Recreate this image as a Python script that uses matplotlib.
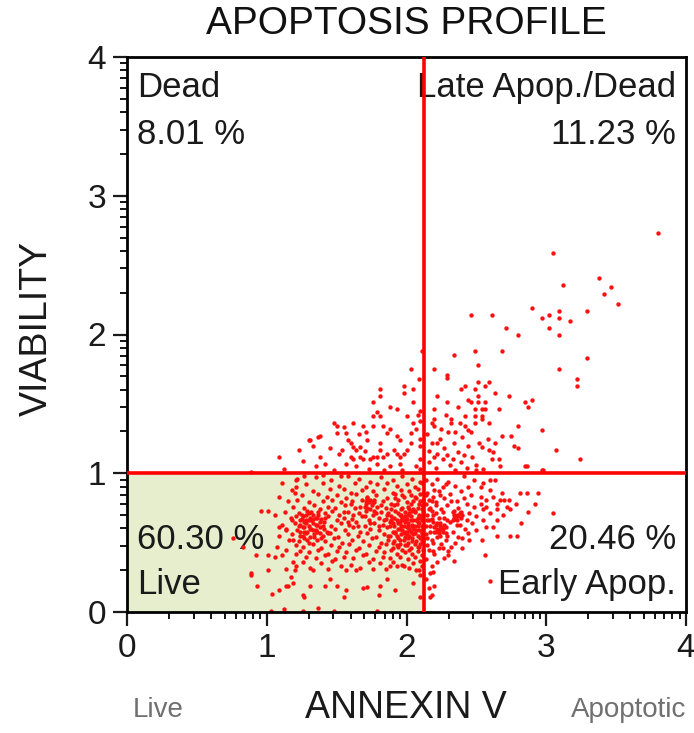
import numpy as np
import matplotlib
matplotlib.use("Agg")
import matplotlib.pyplot as plt

plt.rcParams['font.family'] = ['Liberation Sans', 'DejaVu Sans']

# quadrant gates (log decades)
gate_x = 2.125
gate_y = 1.0

quad_names = ["Dead", "Late Apop./Dead", "Live", "Early Apop."]
quad_pcts = ["8.01 %", "11.23 %", "60.30 %", "20.46 %"]

# upper-left quadrant points
dead_x = [2.03, 2.11, 1.98, 2.05, 1.81, 1.81, 1.76, 1.88, 1.93, 2.05, 1.79, 1.76, 1.81, 2.00,
          1.48, 1.50, 1.50, 1.62, 1.69, 1.76, 1.83, 1.57, 1.88, 1.86, 1.93, 1.95, 2.03, 2.05,
          2.07, 1.30, 1.38, 1.33, 1.23, 1.38, 1.42, 1.52, 1.60, 1.62, 1.64, 1.67, 1.72, 1.81,
          1.81, 1.79, 1.83, 1.86, 1.60, 1.62, 1.67, 1.69, 1.74, 1.76, 1.91, 1.93, 1.95, 1.98,
          2.00, 2.03, 1.57, 1.64, 1.79, 1.88, 1.95, 2.07, 1.48, 1.09, 0.89, 1.31, 1.37, 1.55,
          1.66, 1.71, 1.58, 1.45, 1.54, 1.70, 1.97, 1.84, 1.73, 1.12, 1.35, 1.26, 1.98, 2.09,
          2.08, 2.10, 2.10, 2.10, 2.10, 2.10, 2.10]
dead_y = [1.75, 1.88, 1.63, 1.61, 1.61, 1.56, 1.51, 1.48, 1.46, 1.51, 1.44, 1.41, 1.41, 1.41,
          1.36, 1.34, 1.29, 1.36, 1.34, 1.34, 1.34, 1.29, 1.32, 1.29, 1.27, 1.24, 1.29, 1.36,
          1.32, 1.24, 1.27, 1.20, 1.17, 1.12, 1.07, 1.14, 1.22, 1.19, 1.17, 1.19, 1.24, 1.22,
          1.17, 1.12, 1.12, 1.14, 1.12, 1.10, 1.12, 1.10, 1.10, 1.12, 1.17, 1.14, 1.12, 1.14,
          1.17, 1.22, 1.07, 1.05, 1.07, 1.05, 1.07, 1.05, 1.02, 1.12, 1.01, 1.24, 1.26, 1.33,
          1.28, 1.30, 1.24, 1.18, 1.17, 1.16, 1.02, 1.02, 1.03, 1.03, 1.05, 1.09, 1.58, 1.68,
          1.42, 1.45, 1.38, 1.20, 1.10, 1.03, 1.25]

# upper-right quadrant points
late_x = [3.80, 3.05, 3.12, 3.38, 3.46, 3.41, 3.51, 2.90, 3.02, 2.97, 3.09, 3.09, 3.17, 3.29,
          3.02, 3.09, 2.46, 2.61, 2.71, 2.80, 3.29, 3.09, 3.22, 3.22, 2.34, 2.49, 2.68, 2.51,
          2.20, 2.29, 2.29, 2.39, 2.42, 2.49, 2.51, 2.59, 2.56, 2.63, 2.73, 2.22, 2.90, 2.85,
          2.87, 2.29, 2.37, 2.44, 2.46, 2.51, 2.56, 2.51, 2.66, 2.20, 2.49, 2.54, 2.56, 2.42,
          2.49, 2.54, 2.20, 2.20, 2.32, 2.32, 2.80, 2.97, 2.68, 2.75, 2.63, 2.77, 2.80, 3.07,
          3.24, 2.85, 2.97, 2.22, 2.20, 2.42, 2.44, 2.49, 2.54, 2.59, 2.59, 2.54, 2.66, 2.61,
          2.15, 2.18, 2.24, 2.27, 2.30, 2.34, 2.37, 2.40, 2.44, 2.47, 2.16, 2.21, 2.26, 2.31,
          2.35, 2.39, 2.43, 2.50, 2.55, 2.18, 2.25, 2.28, 2.35, 2.38, 2.46, 2.16, 2.22, 2.29,
          2.33, 2.41, 2.52, 2.58, 2.62, 2.86, 2.98, 2.67, 2.50]
late_y = [2.73, 2.59, 2.36, 2.41, 2.34, 2.29, 2.22, 2.19, 2.14, 2.12, 2.17, 2.12, 2.10, 2.17,
          2.05, 2.00, 2.14, 2.14, 2.05, 2.00, 1.83, 1.75, 1.68, 1.63, 1.85, 1.88, 1.88, 1.78,
          1.75, 1.69, 1.71, 1.61, 1.63, 1.61, 1.66, 1.66, 1.63, 1.58, 1.56, 1.56, 1.53, 1.51,
          1.48, 1.51, 1.48, 1.53, 1.51, 1.51, 1.51, 1.56, 1.46, 1.46, 1.46, 1.46, 1.46, 1.41,
          1.41, 1.41, 1.39, 1.34, 1.39, 1.36, 1.34, 1.31, 1.27, 1.27, 1.22, 1.20, 1.18, 1.17,
          1.10, 1.05, 1.02, 1.22, 1.12, 1.34, 1.31, 1.36, 1.39, 1.36, 1.17, 1.19, 1.10, 1.10,
          1.28, 1.22, 1.25, 1.18, 1.30, 1.22, 1.15, 1.26, 1.20, 1.12, 1.08, 1.04, 1.10, 1.06,
          1.02, 1.08, 1.04, 1.06, 1.03, 1.36, 1.32, 1.42, 1.30, 1.36, 1.30, 1.16, 1.14, 1.13,
          1.10, 1.13, 1.22, 1.25, 1.15, 1.05, 1.02, 1.05, 1.02]

# lower-right quadrant points
early_x = [2.81, 2.86, 2.94, 3.05, 2.92, 2.87, 2.82, 2.78, 2.73, 2.68, 2.63, 2.74, 2.79, 2.65,
           2.56, 2.60, 2.19, 2.20, 2.18, 2.34, 2.40, 2.30, 2.26, 2.35, 2.45, 2.54, 2.50, 2.57,
           2.65, 2.69, 2.74, 2.65, 2.57, 2.53, 2.60, 2.53, 2.55, 2.60, 2.48, 2.41, 2.45, 2.48,
           2.43, 2.50, 2.55, 2.57, 2.60, 2.53, 2.62, 2.67, 2.72, 2.70, 2.65, 2.55, 2.62, 2.17,
           2.17, 2.14, 2.18, 2.22, 2.26, 2.30, 2.35, 2.39, 2.44, 2.15, 2.19, 2.23, 2.27, 2.31,
           2.36, 2.41, 2.46, 2.14, 2.17, 2.21, 2.25, 2.29, 2.33, 2.37, 2.40, 2.15, 2.18, 2.21,
           2.24, 2.27, 2.31, 2.35, 2.38, 2.42, 2.14, 2.17, 2.20, 2.23, 2.26, 2.29, 2.33, 2.37,
           2.15, 2.19, 2.22, 2.25, 2.28, 2.32, 2.16, 2.20, 2.23, 2.14, 2.22, 2.27, 2.36, 2.34,
           2.38, 2.22, 2.24, 2.26, 2.21, 2.28, 2.19, 2.35, 2.37, 2.33, 2.16, 2.18, 2.16, 2.20,
           2.24, 2.28, 2.32, 2.43, 2.47, 2.44, 2.40, 2.30, 2.18, 2.14, 2.16, 2.23, 2.25, 2.21,
           2.36, 2.39, 2.34]
early_y = [0.86, 0.86, 0.86, 0.71, 0.78, 0.72, 0.64, 0.78, 0.81, 0.86, 0.95, 0.55, 0.55, 0.55,
           0.41, 0.22, 0.29, 0.19, 0.12, 0.37, 0.46, 0.41, 0.46, 0.50, 0.52, 0.52, 0.59, 0.61,
           0.66, 0.70, 0.74, 0.78, 0.81, 0.83, 0.88, 0.90, 0.93, 0.95, 0.95, 0.98, 0.71, 0.76,
           0.66, 0.69, 0.74, 0.76, 0.71, 0.78, 0.83, 0.81, 0.76, 0.81, 0.74, 0.66, 0.61, 0.28,
           0.11, 0.95, 0.92, 0.96, 0.90, 0.94, 0.91, 0.87, 0.90, 0.86, 0.83, 0.87, 0.82, 0.85,
           0.80, 0.82, 0.84, 0.78, 0.75, 0.79, 0.74, 0.77, 0.72, 0.75, 0.70, 0.70, 0.67, 0.71,
           0.64, 0.68, 0.65, 0.68, 0.63, 0.60, 0.62, 0.58, 0.61, 0.57, 0.60, 0.55, 0.58, 0.54,
           0.53, 0.50, 0.54, 0.49, 0.52, 0.47, 0.45, 0.42, 0.46, 0.38, 0.36, 0.39, 0.63, 0.70,
           0.71, 0.60, 0.62, 0.58, 0.63, 0.61, 0.65, 0.67, 0.69, 0.66, 0.66, 0.73, 0.81, 0.88,
           0.84, 0.92, 0.80, 0.78, 0.64, 0.57, 0.53, 0.44, 0.33, 0.24, 0.17, 0.59, 0.61, 0.58,
           0.70, 0.72, 0.68]

# lower-left quadrant points
live_x = [1.22, 1.35, 1.46, 1.58, 1.66, 1.74, 1.82, 1.90, 1.97, 2.04, 2.10, 1.53, 1.27, 1.40,
          1.28, 1.40, 1.52, 1.63, 1.71, 1.79, 1.86, 1.93, 2.00, 2.06, 2.11, 1.45,
          1.18, 1.33, 1.55, 1.60, 1.68, 1.76, 1.84, 1.90, 1.96, 2.02, 2.08, 2.12,
          1.25, 1.37, 1.43, 1.50, 1.57, 1.64, 1.72, 1.78, 1.86, 1.92, 1.98, 2.03, 2.07, 2.10,
          1.15, 1.22, 1.30, 1.40, 1.47, 1.53, 1.61, 1.68, 1.73, 1.77, 1.83, 1.89, 1.94, 2.00,
          2.05, 2.09, 2.12, 1.71, 1.75,
          1.19, 1.27, 1.34, 1.38, 1.44, 1.49, 1.56, 1.63, 1.70, 1.74, 1.79, 1.85, 1.91, 1.96,
          2.01, 2.04, 2.08, 2.11, 1.72, 1.77,
          1.13, 1.23, 1.29, 1.33, 1.37, 1.42, 1.47, 1.52, 1.58, 1.66, 1.71, 1.76, 1.82, 1.87,
          1.92, 1.95, 1.99, 2.02, 2.06, 2.09, 2.12, 1.26, 1.31,
          1.17, 1.25, 1.28, 1.35, 1.39, 1.44, 1.50, 1.55, 1.61, 1.68, 1.73, 1.80, 1.85, 1.89,
          1.93, 1.97, 2.00, 2.03, 2.07, 2.10, 1.95, 1.99,
          1.20, 1.24, 1.27, 1.30, 1.33, 1.36, 1.41, 1.46, 1.53, 1.59, 1.64, 1.70, 1.77, 1.83,
          1.88, 1.91, 1.98, 2.01, 2.04, 2.08, 2.11, 2.05, 1.94, 1.32,
          1.14, 1.22, 1.26, 1.29, 1.32, 1.35, 1.38, 1.43, 1.49, 1.56, 1.62, 1.67, 1.74, 1.80,
          1.86, 1.90, 1.97, 2.00, 2.03, 2.06, 2.09, 2.12, 1.96, 2.02,
          1.18, 1.24, 1.28, 1.31, 1.34, 1.40, 1.45, 1.51, 1.58, 1.65, 1.72, 1.78, 1.84, 1.88,
          1.92, 1.99, 2.05, 2.08, 2.11, 1.94, 2.00,
          1.16, 1.23, 1.27, 1.30, 1.36, 1.42, 1.48, 1.54, 1.61, 1.69, 1.75, 1.82, 1.87, 1.91,
          1.95, 1.98, 2.01, 2.04, 2.07, 2.10, 2.12,
          1.21, 1.26, 1.33, 1.39, 1.46, 1.52, 1.59, 1.66, 1.73, 1.80, 1.85, 1.90, 1.94, 1.97,
          2.00, 2.03, 2.06, 2.09, 2.12,
          1.24, 1.30, 1.37, 1.44, 1.50, 1.57, 1.64, 1.71, 1.78, 1.84, 1.89, 1.93, 1.99, 2.04,
          2.08, 2.11,
          1.28, 1.35, 1.42, 1.49, 1.55, 1.62, 1.69, 1.76, 1.83, 1.88, 1.95, 2.01, 2.06, 2.10,
          1.26, 1.39, 1.47, 1.60, 1.73, 1.81, 1.90, 1.97, 2.05, 2.11,
          1.31, 1.44, 1.53, 1.67, 1.85, 1.93, 2.02, 2.09,
          1.11, 1.09, 0.96, 1.01, 1.06, 1.09, 1.11, 0.76, 0.83, 0.92, 1.01, 1.06, 1.14, 1.19,
          1.21, 1.19, 0.89, 1.01, 1.14, 1.20, 1.14, 1.09, 1.14, 1.07, 1.11, 1.20, 1.21, 1.18,
          1.21, 1.21,
          0.93, 1.04, 1.09, 1.19, 1.31, 1.42, 1.50, 1.57, 1.69, 1.03, 1.12, 1.26, 1.48, 1.81,
          1.80, 0.89, 1.15, 1.27, 1.37, 1.26, 1.45, 1.55, 1.64, 1.72, 1.79, 1.86, 1.92, 2.05,
          1.17, 1.21, 1.33, 1.57, 1.76, 1.88, 1.98, 2.07, 2.10, 2.10,
          1.95, 1.98, 2.01, 2.03, 1.96, 2.06, 1.99, 2.02, 1.93, 1.90, 2.08, 1.27, 1.30, 1.33,
          1.36, 1.28, 1.38, 1.24, 1.40, 1.74, 1.71, 1.77, 2.11, 2.11, 2.11, 2.11, 2.11, 2.11]
live_y = [0.96, 0.97, 0.95, 0.98, 0.96, 0.94, 0.97, 0.95, 0.98, 0.96, 0.94, 0.98, 0.98, 0.99,
          0.92, 0.93, 0.91, 0.93, 0.90, 0.92, 0.93, 0.91, 0.92, 0.90, 0.93, 0.89,
          0.88, 0.87, 0.89, 0.86, 0.88, 0.87, 0.89, 0.86, 0.88, 0.87, 0.89, 0.86,
          0.84, 0.85, 0.83, 0.84, 0.82, 0.85, 0.83, 0.84, 0.82, 0.85, 0.83, 0.84, 0.82, 0.85,
          0.80, 0.81, 0.79, 0.80, 0.81, 0.79, 0.80, 0.81, 0.79, 0.81, 0.80, 0.78, 0.81, 0.79,
          0.80, 0.78, 0.81, 0.78, 0.77,
          0.76, 0.75, 0.77, 0.74, 0.76, 0.75, 0.77, 0.75, 0.76, 0.74, 0.76, 0.75, 0.77, 0.74,
          0.76, 0.73, 0.75, 0.77, 0.75, 0.73,
          0.72, 0.71, 0.73, 0.70, 0.72, 0.71, 0.73, 0.70, 0.72, 0.71, 0.73, 0.70, 0.72, 0.71,
          0.73, 0.70, 0.72, 0.71, 0.73, 0.70, 0.72, 0.69, 0.68,
          0.68, 0.67, 0.66, 0.68, 0.67, 0.69, 0.66, 0.68, 0.67, 0.69, 0.66, 0.68, 0.67, 0.69,
          0.66, 0.68, 0.67, 0.69, 0.66, 0.68, 0.64, 0.65,
          0.64, 0.63, 0.65, 0.62, 0.64, 0.63, 0.65, 0.62, 0.64, 0.63, 0.65, 0.62, 0.64, 0.63,
          0.65, 0.62, 0.62, 0.64, 0.63, 0.65, 0.62, 0.60, 0.60, 0.66,
          0.60, 0.59, 0.61, 0.58, 0.60, 0.59, 0.61, 0.58, 0.60, 0.59, 0.61, 0.58, 0.60, 0.59,
          0.61, 0.58, 0.59, 0.61, 0.58, 0.62, 0.59, 0.61, 0.56, 0.55,
          0.56, 0.55, 0.57, 0.54, 0.56, 0.55, 0.57, 0.54, 0.56, 0.55, 0.57, 0.54, 0.56, 0.55,
          0.57, 0.54, 0.56, 0.55, 0.57, 0.53, 0.58,
          0.52, 0.51, 0.53, 0.50, 0.52, 0.51, 0.53, 0.50, 0.52, 0.51, 0.53, 0.50, 0.52, 0.51,
          0.49, 0.52, 0.50, 0.53, 0.51, 0.49, 0.52,
          0.48, 0.47, 0.49, 0.46, 0.48, 0.47, 0.49, 0.46, 0.48, 0.47, 0.49, 0.46, 0.47, 0.45,
          0.48, 0.46, 0.49, 0.47, 0.45,
          0.44, 0.43, 0.45, 0.42, 0.44, 0.43, 0.45, 0.42, 0.44, 0.43, 0.45, 0.42, 0.43, 0.42,
          0.44, 0.41,
          0.40, 0.39, 0.41, 0.38, 0.40, 0.39, 0.41, 0.38, 0.40, 0.39, 0.40, 0.38, 0.40, 0.37,
          0.36, 0.35, 0.37, 0.34, 0.36, 0.35, 0.36, 0.34, 0.35, 0.33,
          0.32, 0.31, 0.33, 0.32, 0.31, 0.33, 0.32, 0.30,
          0.93, 0.83, 0.73, 0.73, 0.70, 0.61, 0.63, 0.53, 0.47, 0.41, 0.41, 0.40, 0.45, 0.52,
          0.42, 0.36, 0.27, 0.30, 0.31, 0.30, 0.19, 0.55, 0.59, 0.47, 0.41, 0.86, 0.69, 0.66,
          0.95, 0.90,
          0.19, 0.13, 0.16, 0.21, 0.19, 0.19, 0.19, 0.16, 0.17, 0.01, 0.02, 0.12, 0.01, 0.19,
          0.12, 0.28, 0.19, 0.11, 0.03, 0.01, 0.24, 0.11, 0.30, 0.18, 0.01, 0.24, 0.16, 0.21,
          0.25, 0.33, 0.30, 0.30, 0.31, 0.33, 0.33, 0.30, 0.11, 0.27,
          0.60, 0.57, 0.62, 0.66, 0.66, 0.57, 0.69, 0.74, 0.55, 0.64, 0.62, 0.61, 0.66, 0.59,
          0.68, 0.70, 0.57, 0.58, 0.62, 0.81, 0.80, 0.79, 0.66, 0.70, 0.74, 0.55, 0.51, 0.59]

# extra points in the densest blobs, both sides of the vertical gate
core_x = [1.86, 1.88, 1.89, 1.91, 1.92, 1.93, 1.94, 1.95, 1.96, 1.97, 1.98, 1.99, 2.00, 2.01,
          2.02, 2.03, 2.04, 2.05, 2.06, 2.07, 2.08, 2.09, 2.10, 2.11, 1.87, 1.90, 1.92, 1.97,
          2.02, 2.06, 1.94, 1.99, 2.04, 2.08, 1.96, 2.01, 1.89, 2.05, 2.10, 1.93,
          1.23, 1.25, 1.26, 1.28, 1.29, 1.30, 1.31, 1.33, 1.34, 1.35, 1.37, 1.38, 1.39, 1.41,
          1.42, 1.44, 1.24, 1.27, 1.32, 1.36,
          1.55, 1.58, 1.60, 1.62, 1.65, 1.67, 1.70, 1.72, 1.74, 1.76, 1.78, 1.80, 1.82, 1.84,
          2.14, 2.15, 2.16, 2.17, 2.18, 2.19, 2.20, 2.21, 2.22, 2.23, 2.24, 2.25, 2.26, 2.27,
          2.28, 2.29, 2.34, 2.36, 2.39, 2.14, 2.18, 2.15, 2.19]
core_y = [0.70, 0.62, 0.74, 0.68, 0.58, 0.78, 0.71, 0.52, 0.62, 0.75, 0.66, 0.48, 0.56, 0.70,
          0.60, 0.78, 0.51, 0.66, 0.72, 0.59, 0.47, 0.64, 0.80, 0.57, 0.55, 0.50, 0.82, 0.84,
          0.45, 0.83, 0.64, 0.58, 0.62, 0.68, 0.70, 0.53, 0.66, 0.74, 0.53, 0.48,
          0.62, 0.70, 0.55, 0.64, 0.52, 0.71, 0.60, 0.67, 0.54, 0.63, 0.70, 0.65, 0.53, 0.60,
          0.68, 0.57, 0.66, 0.58, 0.72, 0.58,
          0.72, 0.65, 0.78, 0.70, 0.62, 0.76, 0.69, 0.82, 0.64, 0.79, 0.71, 0.62, 0.77, 0.66,
          0.56, 0.66, 0.74, 0.62, 0.52, 0.70, 0.58, 0.77, 0.64, 0.68, 0.55, 0.60, 0.72, 0.63,
          0.57, 0.66, 0.73, 0.66, 0.68, 0.84, 0.80, 0.48, 0.44]

fig = plt.figure(figsize=(6.94, 7.33), dpi=100)
ax = fig.add_axes([127/694, 121/733, 559/694, 555/733])

ax.set_xlim(0, 4)
ax.set_ylim(0, 4)

# live quadrant shading
ax.axvspan(0, gate_x, ymin=0, ymax=gate_y/4, color='#e6eecd', zorder=0, lw=0)

txt = dict(fontsize=25, color='#1a1a1a', zorder=1)
ax.text(0.07, 3.90, quad_names[0], ha='left', va='top', **txt)
ax.text(0.07, 3.56, quad_pcts[0], ha='left', va='top', **txt)
ax.text(3.93, 3.90, quad_names[1], ha='right', va='top', **txt)
ax.text(3.93, 3.56, quad_pcts[1], ha='right', va='top', **txt)
ax.text(0.07, 0.64, quad_pcts[2], ha='left', va='top', **txt)
ax.text(0.07, 0.32, quad_names[2], ha='left', va='top', **txt)
ax.text(3.93, 0.64, quad_pcts[3], ha='right', va='top', **txt)
ax.text(3.93, 0.32, quad_names[3], ha='right', va='top', **txt)

dot = dict(s=10, color='#ff1010', linewidths=0, zorder=2)
ax.scatter(dead_x, dead_y, **dot)
ax.scatter(late_x, late_y, **dot)
ax.scatter(early_x, early_y, **dot)
ax.scatter(live_x, live_y, **dot)
ax.scatter(core_x, core_y, **dot)

ax.axvline(gate_x, color='#ff0000', lw=2.6, zorder=3)
ax.axhline(gate_y, color='#ff0000', lw=2.6, zorder=3)

# log-decade ticks
major = [0, 1, 2, 3, 4]
minor = [d + np.log10(k) for d in range(4) for k in range(2, 10)]
for a in (ax.xaxis, ax.yaxis):
    a.set_ticks(major)
    a.set_ticks(minor, minor=True)
ax.set_xticklabels([str(m) for m in major])
ax.set_yticklabels([str(m) for m in major])
ax.tick_params(which='major', length=10, width=1.6, labelsize=24, pad=5, colors='#1a1a1a')
ax.tick_params(which='minor', length=5, width=1.3)
for s in ax.spines.values():
    s.set_linewidth(2)

fig.text(406/694, 1 - 24/733, "APOPTOSIS PROFILE", ha='center', va='center',
         fontsize=28, color='#111111')
fig.text(406/694, 1 - 708/733, "ANNEXIN V", ha='center', va='center',
         fontsize=27, color='#1a1a1a')
fig.text(37/694, 1 - 328/733, "VIABILITY", ha='center', va='center', rotation=90,
         fontsize=27, color='#1a1a1a')
fig.text(133/694, 1 - 710/733, "Live", ha='left', va='center', fontsize=20, color='#707070')
fig.text(686/694, 1 - 710/733, "Apoptotic", ha='right', va='center', fontsize=20,
         color='#707070')

fig.savefig("out.png", dpi=100)
